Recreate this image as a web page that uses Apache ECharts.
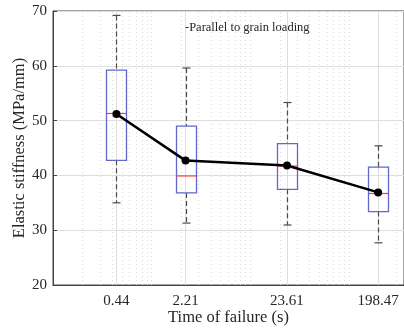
<!DOCTYPE html>
<html>
<head>
<meta charset="utf-8">
<script src="https://cdn.jsdelivr.net/npm/echarts@6/dist/echarts.min.js"></script>
<style>html,body{margin:0;padding:0;background:#fff;}#c{width:404px;height:330px;}</style>
</head>
<body>
<div id="c"></div>
<script>
// ---- data ----
const xValues = [0.44, 2.21, 23.61, 198.47];
const xLabels = ['0.44', '2.21', '23.61', '198.47'];
const whiskerLow = [35.0, 31.3, 30.95, 27.7];
const q1 = [42.75, 36.8, 37.45, 33.4];
const median = [51.3, 39.9, 41.7, 36.7];
const q3 = [59.2, 49.0, 45.8, 41.5];
const whiskerHigh = [69.2, 59.6, 53.3, 45.4];
const means = [51.2, 42.7, 41.8, 36.9];
const minorGrid = [0.2,0.3,0.4,0.5,0.6,0.7,0.8,0.9,1,2,3,4,5,6,7,8,9,10,20,30,40,50,60,70,80,90,100,200,300];
const yMin = 20, yMax = 70, yStep = 10;
const annotation = '-Parallel to grain loading';
const xName = 'Time of failure (s)';
const yName = 'Elastic stiffness (MPa/mm)';

const boxData = xValues.map((x, i) => [x, whiskerLow[i], q1[i], median[i], q3[i], whiskerHigh[i]]);
const meanData = xValues.map((x, i) => [x, means[i]]);

const font = 'Liberation Serif, Times New Roman, serif';
const txt = '#262626';
const axisCol = '#444';

function renderItem(params, api) {
  const x = api.value(0);
  const pLow = api.coord([x, api.value(1)]);
  const pQ1 = api.coord([x, api.value(2)]);
  const pMed = api.coord([x, api.value(3)]);
  const pQ3 = api.coord([x, api.value(4)]);
  const pHigh = api.coord([x, api.value(5)]);
  const cx = Math.round(pMed[0]) + 0.5;
  const hw = 10, cw = 4;
  const wStyle = {stroke: '#4a4a4a', lineWidth: 1.2, lineDash: [5, 3]};
  const cStyle = {stroke: '#4a4a4a', lineWidth: 1.2};
  return {
    type: 'group',
    children: [
      {type: 'line', shape: {x1: cx, y1: pHigh[1], x2: cx, y2: pQ3[1]}, style: wStyle},
      {type: 'line', shape: {x1: cx, y1: pQ1[1], x2: cx, y2: pLow[1]}, style: wStyle},
      {type: 'line', shape: {x1: cx - cw, y1: pHigh[1], x2: cx + cw, y2: pHigh[1]}, style: cStyle},
      {type: 'line', shape: {x1: cx - cw, y1: pLow[1], x2: cx + cw, y2: pLow[1]}, style: cStyle},
      {type: 'rect', shape: {x: cx - hw, y: pQ3[1], width: 2 * hw, height: pQ1[1] - pQ3[1]},
        style: {fill: 'none', stroke: '#6068c8', lineWidth: 1.3}},
      {type: 'line', shape: {x1: cx - hw, y1: pMed[1], x2: cx + hw, y2: pMed[1]},
        style: {stroke: '#f04040', lineWidth: 1.2}}
    ]
  };
}

const chart = echarts.init(document.getElementById('c'), null, {renderer: 'canvas'});
chart.setOption({
  animation: false,
  backgroundColor: '#fff',
  title: {
    text: annotation, left: 180, top: 16,
    textStyle: {fontFamily: font, fontSize: 12.5, fontWeight: 'normal', color: txt}
  },
  grid: {left: 53, right: 0, top: 11, bottom: 45, show: true, borderColor: axisCol, borderWidth: 1,
    containLabel: false, outerBoundsMode: 'none'},
  xAxis: {
    type: 'log', logBase: 10, min: 0.1, max: 363,
    name: xName, nameLocation: 'middle', nameGap: 24, nameMoveOverlap: false,
    nameTextStyle: {fontFamily: font, fontSize: 16.5, color: txt},
    axisLine: {show: true, onZero: false, lineStyle: {color: axisCol}},
    axisTick: {show: true, inside: true, length: 4, customValues: xValues, lineStyle: {color: axisCol}},
    axisLabel: {
      show: true, customValues: xValues, margin: 9,
      fontFamily: font, fontSize: 15, color: txt,
      formatter: function (v) {
        let best = 0;
        xValues.forEach((x, i) => { if (Math.abs(x - v) < Math.abs(xValues[best] - v)) best = i; });
        return xLabels[best];
      }
    },
    splitLine: {show: false},
    minorTick: {show: false}, minorSplitLine: {show: false}
  },
  yAxis: {
    type: 'value', min: yMin, max: yMax, interval: yStep,
    name: yName, nameLocation: 'middle', nameGap: 25, nameRotate: 90, nameMoveOverlap: false,
    nameTextStyle: {fontFamily: font, fontSize: 16.5, color: txt},
    axisLine: {show: true, lineStyle: {color: axisCol}},
    axisTick: {show: true, inside: true, length: 4, lineStyle: {color: axisCol}},
    axisLabel: {fontFamily: font, fontSize: 15, color: txt, margin: 6},
    splitLine: {show: true, lineStyle: {color: '#dedede', width: 1}}
  },
  series: [
    {
      type: 'line', data: [], silent: true, z: 1,
      markLine: {
        z: 1, silent: true, symbol: 'none', label: {show: false}, animation: false,
        lineStyle: {color: '#dcdcdc', type: [1, 3], width: 1},
        data: minorGrid.map(v => ({xAxis: v}))
      }
    },
    {
      type: 'line', data: [], silent: true, z: 1,
      markLine: {
        z: 1, silent: true, symbol: 'none', label: {show: false}, animation: false,
        lineStyle: {color: '#dedede', type: 'solid', width: 1},
        data: xValues.map(v => ({xAxis: v}))
      }
    },
    {
      type: 'custom', renderItem: renderItem, data: boxData, z: 3,
      encode: {x: 0, y: [1, 2, 3, 4, 5]}
    },
    {
      type: 'line', data: meanData, z: 5,
      symbol: 'circle', symbolSize: 8,
      itemStyle: {color: '#000'},
      lineStyle: {color: '#000', width: 2.5}
    }
  ]
});
</script>
</body>
</html>
